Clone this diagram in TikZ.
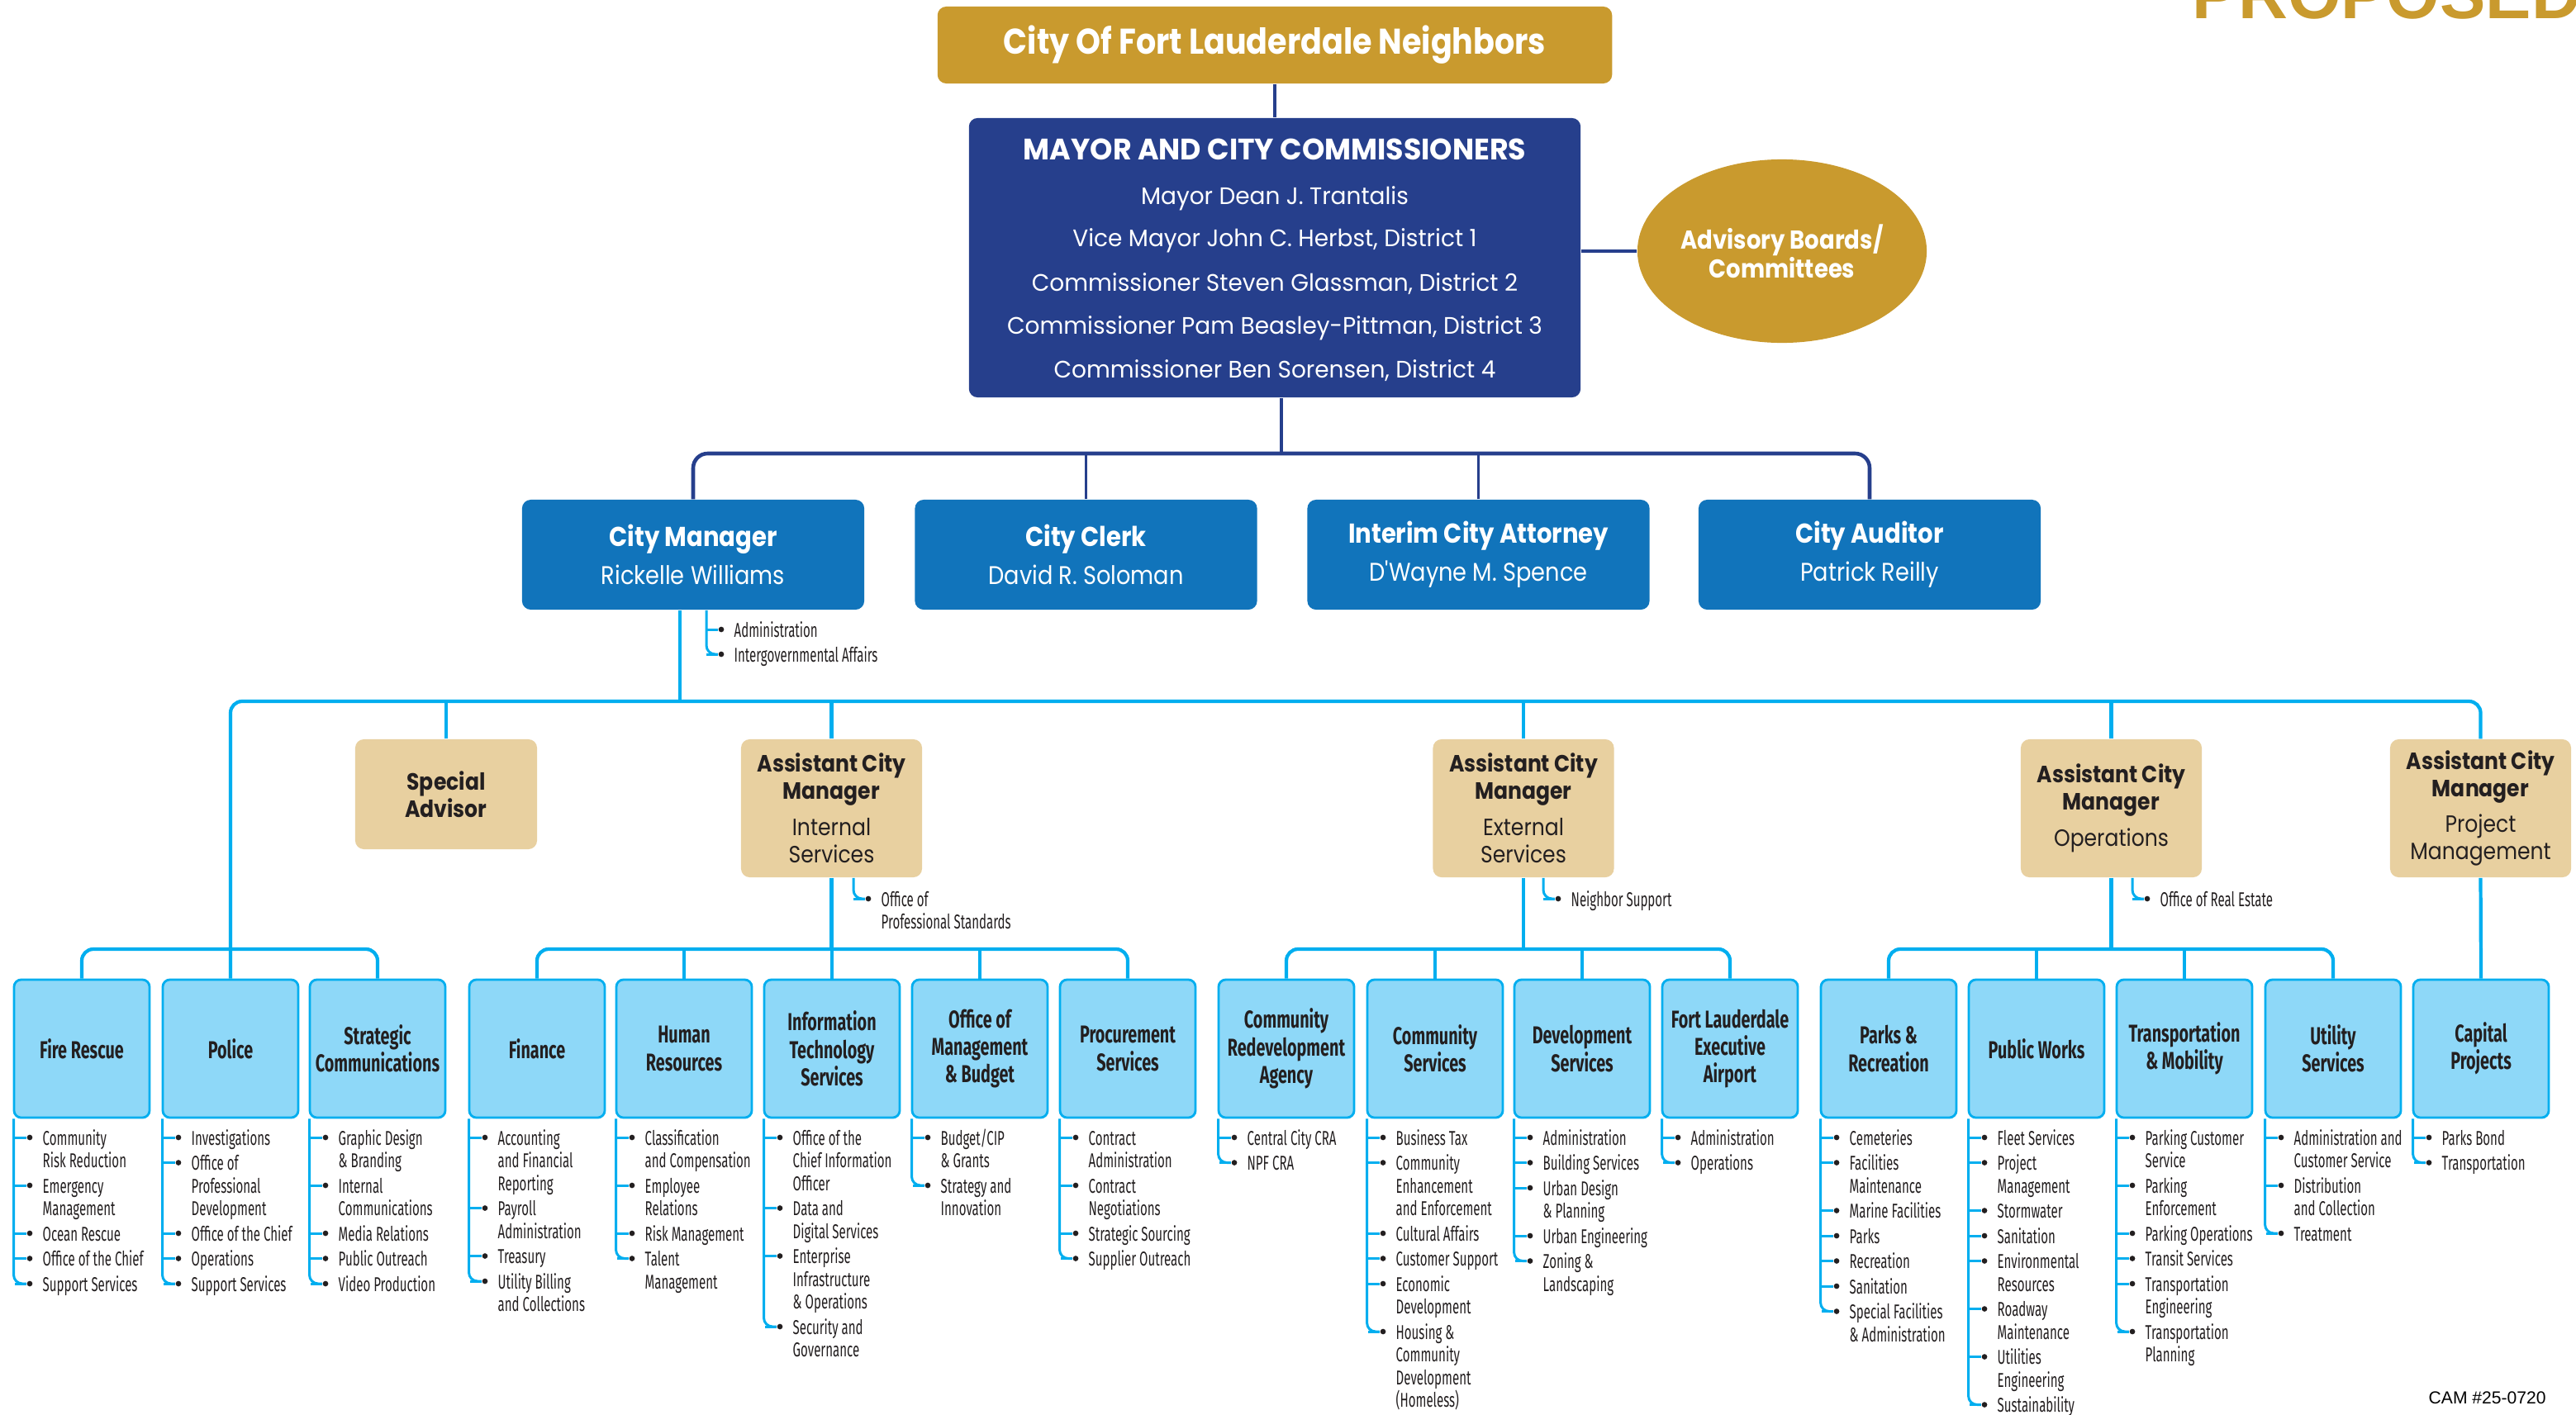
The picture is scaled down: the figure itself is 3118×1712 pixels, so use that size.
\documentclass[tikz,border=0pt]{standalone}
\usepackage{fontspec}
\setmainfont{Poppins}
\newfontfamily\gp[FakeStretch=0.88]{Poppins}
\newfontfamily\gw[FakeStretch=0.97]{Poppins}
\newfontfamily\cf[FakeStretch=0.67]{Fira Sans}
\newfontfamily\cl[FakeStretch=0.62]{Fira Sans}
\newfontfamily\arl{Liberation Sans}
\usetikzlibrary{shapes.geometric}
\definecolor{gold}{HTML}{C99A2E}
\definecolor{navy}{HTML}{263F8C}
\definecolor{mblue}{HTML}{1174BB}
\definecolor{cyanl}{HTML}{00AEEF}
\definecolor{lblue}{HTML}{8ED8F8}
\definecolor{tanb}{HTML}{E8D0A0}
\definecolor{ink}{HTML}{231F20}
\newcommand\lstrut{\rule{0pt}{6pt}}
\newcommand\li[4]{%
  \node[dot] (#1) at ({#2+18},#3) {};
  \draw[cyanlist] (#1) -- ++(-18,0);
  \node[ltext] (#1t) at ({#2+33},{#3-12.6}) {\lstrut #4};}
\newcommand\vl[2]{\draw[cyanlist,rounded corners=3pt] #1 |- (#2);}
\tikzset{
 dot/.style={circle, fill=ink, inner sep=0pt, minimum size=1.9pt},
 cyanlist/.style={draw=cyanl, line width=0.85pt},
 cyanmain/.style={draw=cyanl, line width=1.2pt},
 navyline/.style={draw=navy, line width=0.9pt},
 navybus/.style={draw=navy, line width=1.3pt},
 ltext/.style={anchor=north west, inner sep=0pt, align=left, text=ink, font=\cl\fontsize{6.9}{7.82}\selectfont},
 dept/.style={draw=cyanl, line width=0.8pt, fill=lblue, rounded corners=2.5pt, minimum width=1.64cm, minimum height=1.67cm, inner sep=0pt, align=center, text=ink, font=\cf\bfseries\fontsize{8.4}{9.5}\selectfont},
 acm/.style={fill=tanb, rounded corners=3pt, minimum width=2.19cm, minimum height=1.67cm, inner sep=0pt, align=center, text=ink, font=\gp\bfseries\fontsize{8.1}{9.4}\selectfont},
 lead/.style={fill=mblue, rounded corners=3pt, minimum width=4.14cm, minimum height=1.33cm, inner sep=0pt, align=center, text=white, font=\gp\fontsize{8.8}{13}\selectfont},
 mtext/.style={anchor=base, inner sep=0pt, text=white, font=\gw\fontsize{8.2}{9}\selectfont},
}
\begin{document}
\begin{tikzpicture}[x=0.01cm, y=-0.01cm]
\useasboundingbox (0,0) rectangle (3118,1712);
% ---- header ----
\node[anchor=base west, inner sep=0pt, text=gold, font=\arl\bfseries\fontsize{23.6}{24}\selectfont] (prop) at (2653,22) {PROPOSED};
\node[anchor=base west, inner sep=0pt, text=black, font=\arl\fontsize{6}{7}\selectfont] (cam) at (2939,1699) {CAM \#25-0720};
\node[fill=gold, rounded corners=3pt, minimum width=8.16cm, minimum height=0.93cm, text=white, font=\gp\bfseries\fontsize{12.3}{13}\selectfont] (top) at (1543,54.5) {City Of Fort Lauderdale Neighbors};
\node[fill=navy, rounded corners=3pt, minimum width=7.40cm, minimum height=3.38cm] (mayor) at (1543,312) {};
\node[mtext, font=\gw\bfseries\fontsize{10.2}{11}\selectfont] (m0) at (1543,193) {MAYOR AND CITY COMMISSIONERS};
\node[mtext] (m1) at (1543,247) {Mayor Dean J. Trantalis};
\node[mtext] (m2) at (1543,298) {Vice Mayor John C. Herbst, District 1};
\node[mtext] (m3) at (1543,352) {Commissioner Steven Glassman, District 2};
\node[mtext] (m4) at (1543,404) {Commissioner Pam Beasley-Pittman, District 3};
\node[mtext] (m5) at (1543,457) {Commissioner Ben Sorensen, District 4};
\node[ellipse, fill=gold, minimum width=3.50cm, minimum height=2.22cm, inner sep=0pt, align=center, text=white, font=\gp\bfseries\fontsize{8.9}{9.9}\selectfont] (adv) at (2157,304) {Advisory Boards/\\Committees};
% ---- leaders ----
\node[lead] (cm) at (839,671.5) {{\fontsize{9.4}{13}\selectfont\bfseries City Manager}\\Rickelle Williams};
\node[lead] (clerk) at (1314.5,671.5) {{\fontsize{9.4}{13}\selectfont\bfseries City Clerk}\\David R. Soloman};
\node[lead] (atty) at (1789.5,671.5) {{\fontsize{9.4}{13}\selectfont\bfseries Interim City Attorney}\\D'Wayne M. Spence};
\node[lead] (aud) at (2263,671.5) {{\fontsize{9.4}{13}\selectfont\bfseries City Auditor}\\Patrick Reilly};
% navy connectors
\coordinate (nbus) at (1551,549);
\draw[navyline] (top.south) -- (mayor.north);
\draw[navyline, line width=1.3pt] (adv.west) -- (adv.west -| mayor.east);
\draw[navyline] (nbus |- mayor.south) -- (nbus);
\draw[navybus, rounded corners=5pt] (cm.north) -- (cm.north |- nbus) -- (aud.north |- nbus) -- (aud.north);
\draw[navyline] (clerk.north) -- (clerk.north |- nbus);
\draw[navyline] (atty.north) -- (atty.north |- nbus);
% ---- assistants ----
\node[acm, minimum width=2.20cm, minimum height=1.33cm] (spa) at (540,961.5) {Special\\Advisor};
\node[acm] (acmi) at (1006.5,978.5) {Assistant City\\Manager\\[3pt]{\mdseries Internal}\\{\mdseries Services}};
\node[acm] (acme) at (1844,978.5) {Assistant City\\Manager\\[3pt]{\mdseries External}\\{\mdseries Services}};
\node[acm] (acmo) at (2555.5,978.5) {Assistant City\\Manager\\[3pt]{\mdseries Operations}};
\node[acm] (pm) at (3002.5,978.5) {Assistant City\\Manager\\[3pt]{\mdseries Project}\\{\mdseries Management}};
% ---- departments ----
\node[dept] (fire) at (99,1269.5) {Fire Rescue};
\node[dept] (police) at (279,1269.5) {Police};
\node[dept] (strat) at (457,1269.5) {Strategic\\Communications};
\node[dept] (fin) at (650,1269.5) {Finance};
\node[dept] (hr) at (828,1269.5) {Human\\Resources};
\node[dept] (it) at (1007,1269.5) {Information\\Technology\\Services};
\node[dept] (omb) at (1186,1269.5) {Office of\\Management\\\& Budget};
\node[dept] (proc) at (1365,1269.5) {Procurement\\Services};
\node[dept] (cra) at (1557,1269.5) {Community\\Redevelopment\\Agency};
\node[dept] (cs) at (1737,1269.5) {Community\\Services};
\node[dept] (ds) at (1915,1269.5) {Development\\Services};
\node[dept] (fll) at (2094,1269.5) {Fort Lauderdale\\Executive\\Airport};
\node[dept] (parks) at (2286,1269.5) {Parks \&\\Recreation};
\node[dept] (pw) at (2465,1269.5) {Public Works};
\node[dept] (tm) at (2644,1269.5) {Transportation\\\& Mobility};
\node[dept] (us) at (2824,1269.5) {Utility\\Services};
\node[dept] (cp) at (3003,1269.5) {Capital\\Projects};
% cyan connectors
\coordinate (cbus) at (823,849);
\coordinate (sb) at (0,1149);
\draw[cyanmain] (cbus |- cm.south) -- (cbus);
\draw[cyanmain, rounded corners=4pt] (police.north) -- (police.north |- cbus) -- (pm.north |- cbus) -- (pm.north);
\foreach \n in {spa,acmi,acme,acmo} \draw[cyanmain] (\n.north) -- (\n.north |- cbus);
\draw[cyanmain, rounded corners=4pt] (fire.north) -- (fire.north |- sb) -- (strat.north |- sb) -- (strat.north);
\foreach \n in {acmi,acme,acmo} \draw[cyanmain] (\n.south) -- (\n.south |- sb);
\draw[cyanmain, rounded corners=4pt] (fin.north) -- (fin.north |- sb) -- (proc.north |- sb) -- (proc.north);
\draw[cyanmain, rounded corners=4pt] (cra.north) -- (cra.north |- sb) -- (fll.north |- sb) -- (fll.north);
\draw[cyanmain, rounded corners=4pt] (parks.north) -- (parks.north |- sb) -- (us.north |- sb) -- (us.north);
\foreach \n in {hr,it,omb,cs,ds,pw,tm} \draw[cyanmain] (\n.north) -- (\n.north |- sb);
\draw[cyanmain] (pm.south) -- (cp.north);
% ---- side branches ----
\li{cma}{855}{762}{Administration}
\li{cmb}{855}{792}{Intergovernmental Affairs}
\vl{([xshift=0.16cm]cm.south)}{cmb}
\li{ops}{1033}{1088}{Office of\\Professional Standards}
\vl{([xshift=0.265cm]acmi.south)}{ops}
\li{nsu}{1868}{1088}{Neighbor Support}
\vl{([xshift=0.24cm]acme.south)}{nsu}
\li{ore}{2581}{1088}{Office of Real Estate}
\vl{([xshift=0.255cm]acmo.south)}{ore}
% ---- lists ----
\li{fr1}{18}{1377}{Community\\Risk Reduction}
\li{fr2}{18}{1435}{Emergency\\Management}
\li{fr3}{18}{1493}{Ocean Rescue}
\li{fr4}{18}{1523.5}{Office of the Chief}
\li{fr5}{18}{1554}{Support Services}
\vl{(fire.south west) ++(1,0)}{fr5}
\li{po1}{198}{1377}{Investigations}
\li{po2}{198}{1407.5}{Office of\\Professional\\Development}
\li{po3}{198}{1493}{Office of the Chief}
\li{po4}{198}{1523.5}{Operations}
\li{po5}{198}{1554}{Support Services}
\vl{(police.south west) ++(1,0)}{po5}
\li{sc1}{376}{1377}{Graphic Design\\\& Branding}
\li{sc2}{376}{1435}{Internal\\Communications}
\li{sc3}{376}{1493}{Media Relations}
\li{sc4}{376}{1523.5}{Public Outreach}
\li{sc5}{376}{1554}{Video Production}
\vl{(strat.south west) ++(1,0)}{sc5}
\li{fi1}{569}{1377}{Accounting\\and Financial\\Reporting}
\li{fi2}{569}{1462.5}{Payroll\\Administration}
\li{fi3}{569}{1520.5}{Treasury}
\li{fi4}{569}{1551}{Utility Billing\\and Collections}
\vl{(fin.south west) ++(1,0)}{fi4}
\li{hr1}{747}{1377}{Classification\\and Compensation}
\li{hr2}{747}{1435}{Employee\\Relations}
\li{hr3}{747}{1493}{Risk Management}
\li{hr4}{747}{1523.5}{Talent\\Management}
\vl{(hr.south west) ++(1,0)}{hr4}
\li{it1}{926}{1377}{Office of the\\Chief Information\\Officer}
\li{it2}{926}{1462.5}{Data and\\Digital Services}
\li{it3}{926}{1520.5}{Enterprise\\Infrastructure\\\& Operations}
\li{it4}{926}{1606}{Security and\\Governance}
\vl{(it.south west) ++(1,0)}{it4}
\li{om1}{1105}{1377}{Budget/CIP\\\& Grants}
\li{om2}{1105}{1435}{Strategy and\\Innovation}
\vl{(omb.south west) ++(1,0)}{om2}
\li{pr1}{1284}{1377}{Contract\\Administration}
\li{pr2}{1284}{1435}{Contract\\Negotiations}
\li{pr3}{1284}{1493}{Strategic Sourcing}
\li{pr4}{1284}{1523.5}{Supplier Outreach}
\vl{(proc.south west) ++(1,0)}{pr4}
\li{cr1}{1476}{1377}{Central City CRA}
\li{cr2}{1476}{1407.5}{NPF CRA}
\vl{(cra.south west) ++(1,0)}{cr2}
\li{cs1}{1656}{1377}{Business Tax}
\li{cs2}{1656}{1407.5}{Community\\Enhancement\\and Enforcement}
\li{cs3}{1656}{1493}{Cultural Affairs}
\li{cs4}{1656}{1523.5}{Customer Support}
\li{cs5}{1656}{1554}{Economic\\Development}
\li{cs6}{1656}{1612}{Housing \&\\Community\\Development\\(Homeless)}
\vl{(cs.south west) ++(1,0)}{cs6}
\li{ds1}{1834}{1377}{Administration}
\li{ds2}{1834}{1407.5}{Building Services}
\li{ds3}{1834}{1438}{Urban Design\\\& Planning}
\li{ds4}{1834}{1496}{Urban Engineering}
\li{ds5}{1834}{1526.5}{Zoning \&\\Landscaping}
\vl{(ds.south west) ++(1,0)}{ds5}
\li{fl1}{2013}{1377}{Administration}
\li{fl2}{2013}{1407.5}{Operations}
\vl{(fll.south west) ++(1,0)}{fl2}
\li{pk1}{2205}{1377}{Cemeteries}
\li{pk2}{2205}{1407.5}{Facilities\\Maintenance}
\li{pk3}{2205}{1465.5}{Marine Facilities}
\li{pk4}{2205}{1496}{Parks}
\li{pk5}{2205}{1526.5}{Recreation}
\li{pk6}{2205}{1557}{Sanitation}
\li{pk7}{2205}{1587.5}{Special Facilities\\\& Administration}
\vl{(parks.south west) ++(1,0)}{pk7}
\li{pw1}{2384}{1377}{Fleet Services}
\li{pw2}{2384}{1407.5}{Project\\Management}
\li{pw3}{2384}{1465.5}{Stormwater}
\li{pw4}{2384}{1496}{Sanitation}
\li{pw5}{2384}{1526.5}{Environmental\\Resources}
\li{pw6}{2384}{1584.5}{Roadway\\Maintenance}
\li{pw7}{2384}{1642.5}{Utilities\\Engineering}
\li{pw8}{2384}{1700.5}{Sustainability}
\vl{(pw.south west) ++(1,0)}{pw8}
\li{tm1}{2563}{1377}{Parking Customer\\Service}
\li{tm2}{2563}{1435}{Parking\\Enforcement}
\li{tm3}{2563}{1493}{Parking Operations}
\li{tm4}{2563}{1523.5}{Transit Services}
\li{tm5}{2563}{1554}{Transportation\\Engineering}
\li{tm6}{2563}{1612}{Transportation\\Planning}
\vl{(tm.south west) ++(1,0)}{tm6}
\li{us1}{2743}{1377}{Administration and\\Customer Service}
\li{us2}{2743}{1435}{Distribution\\and Collection}
\li{us3}{2743}{1493}{Treatment}
\vl{(us.south west) ++(1,0)}{us3}
\li{cp1}{2922}{1377}{Parks Bond}
\li{cp2}{2922}{1407.5}{Transportation}
\vl{(cp.south west) ++(1,0)}{cp2}
\end{tikzpicture}
\end{document}
